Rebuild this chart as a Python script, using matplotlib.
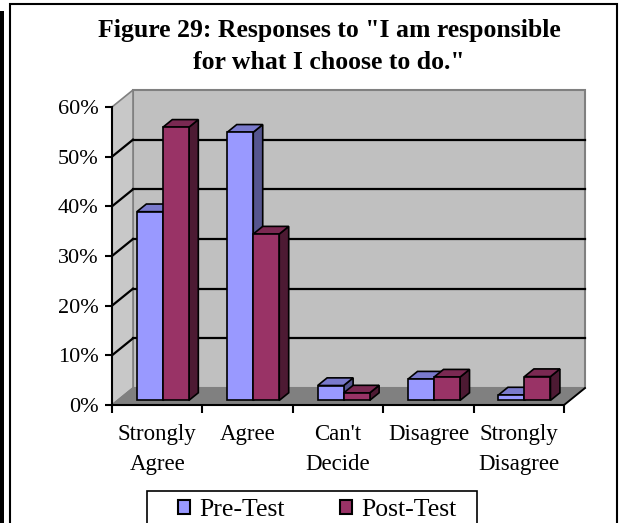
import matplotlib
matplotlib.use("Agg")
import matplotlib.pyplot as plt
from matplotlib.patches import Polygon, Rectangle, Patch
from matplotlib.lines import Line2D

# ---- data ----
categories = ["Strongly\nAgree", "Agree", "Can't\nDecide", "Disagree", "Strongly\nDisagree"]
pre_test = [38, 54, 3, 4.3, 1.1]
post_test = [55, 33.5, 1.5, 4.7, 4.8]
series_names = ["Pre-Test", "Post-Test"]
y_ticks = [0, 10, 20, 30, 40, 50, 60]
title_lines = ["Figure 29: Responses to \"I am responsible", "for what I choose to do.\""]

# ---- styling ----
W, H, DPI = 621, 523, 100
FONT = "Liberation Serif"
plt.rcParams["font.family"] = [FONT, "DejaVu Serif"]

pre_faces = ("#9999FF", "#7A7ACC", "#55558F")    # front, top, side
post_faces = ("#993366", "#7A2952", "#4D1A33")
wall_back = "#C0C0C0"
wall_left = "#C8C8C8"
floor_col = "#808080"
edge_gray = "#808080"

DEPTH_PX = (21.0, 17.0)        # depth offset of the back wall in pixels
BAR_D0, BAR_D1 = 0.27, 0.72    # depth range occupied by bars
BAR_W = 0.2875                 # width of a single bar (category units)

fig = plt.figure(figsize=(W / DPI, H / DPI), dpi=DPI)
fig.patch.set_facecolor("white")

# front plane of the plot box
ax = fig.add_axes([112 / W, 1 - 405 / H, (564 - 112) / W, (405 - 107) / H])
ax.set_xlim(0, len(categories))
ax.set_ylim(y_ticks[0], y_ticks[-1])
ax.patch.set_visible(False)

# depth offsets in data units
px_per_x = (564 - 112) / len(categories)
px_per_y = (405 - 107) / (y_ticks[-1] - y_ticks[0])
KX = DEPTH_PX[0] / px_per_x
KY = DEPTH_PX[1] / px_per_y


def P(x, y, d):
    return (x + d * KX, y + d * KY)


def poly(pts, fc, ec="black", lw=1.2, z=1):
    ax.add_patch(Polygon(pts, closed=True, facecolor=fc, edgecolor=ec,
                         linewidth=lw, zorder=z, clip_on=False, joinstyle="miter"))


def seg(p, q, color="black", lw=1.5, z=2):
    ax.add_line(Line2D([p[0], q[0]], [p[1], q[1]], color=color, lw=lw,
                       zorder=z, clip_on=False))


n = len(categories)
ymax = y_ticks[-1]

# walls and floor
poly([P(0, 0, 1), P(n, 0, 1), P(n, ymax, 1), P(0, ymax, 1)], wall_back, ec=edge_gray, lw=1.5, z=0)
poly([P(0, 0, 0), P(0, 0, 1), P(0, ymax, 1), P(0, ymax, 0)], wall_left, ec=edge_gray, lw=1.2, z=0)
poly([P(0, 0, 0), P(n, 0, 0), P(n, 0, 1), P(0, 0, 1)], floor_col, ec=edge_gray, lw=1.2, z=1)
seg(P(n, 0, 0), P(n, 0, 1), color="black", lw=1.3, z=1.5)

# gridlines on back and left walls
for v in y_ticks[1:-1]:
    seg(P(0, v, 1), P(n, v, 1), lw=1.6, z=0.5)
    seg(P(0, v, 0), P(0, v, 1), lw=1.6, z=0.5)

# 3-D columns
for i in range(n):
    for j, (vals, faces) in enumerate(((pre_test, pre_faces), (post_test, post_faces))):
        v = vals[i]
        x0 = i + (1 - 2 * BAR_W) / 2 + j * BAR_W
        x1 = x0 + BAR_W
        z = 3 + i * 2 + j
        # side face
        poly([P(x1, 0, BAR_D0), P(x1, 0, BAR_D1), P(x1, v, BAR_D1), P(x1, v, BAR_D0)], faces[2], z=z)
        # top face
        poly([P(x0, v, BAR_D0), P(x1, v, BAR_D0), P(x1, v, BAR_D1), P(x0, v, BAR_D1)], faces[1], z=z)
        # front face
        poly([P(x0, 0, BAR_D0), P(x1, 0, BAR_D0), P(x1, v, BAR_D0), P(x0, v, BAR_D0)], faces[0], z=z)

# axes: front spines
for s in ("top", "right"):
    ax.spines[s].set_visible(False)
for s in ("left", "bottom"):
    ax.spines[s].set_linewidth(1.5)
    ax.spines[s].set_zorder(20)

ax.set_yticks(y_ticks)
ax.set_yticklabels([f"{t}%" for t in y_ticks])
ax.tick_params(axis="y", direction="out", length=5, width=1.5, pad=4.5,
               labelsize=16, labelfontfamily=FONT)

ax.set_xticks(range(n + 1))
ax.set_xticklabels([])
ax.set_xticks([i + 0.5 for i in range(n)], minor=True)
ax.set_xticklabels(categories, minor=True, linespacing=1.55)
ax.tick_params(axis="x", which="major", direction="out", length=6, width=1.5)
ax.tick_params(axis="x", which="minor", length=0, pad=14, labelsize=16.5,
               labelfontfamily=FONT)

# title
fig.text(329 / W, 1 - 30 / H, title_lines[0], ha="center", va="center",
         fontsize=18.5, fontweight="bold", family=FONT)
fig.text(329 / W, 1 - 62 / H, title_lines[1], ha="center", va="center",
         fontsize=18.5, fontweight="bold", family=FONT)

# legend (entries without frame, box drawn separately)
handles = [Patch(facecolor=pre_faces[0], edgecolor="black", linewidth=1.5),
           Patch(facecolor=post_faces[0], edgecolor="black", linewidth=1.5)]
leg = fig.legend(handles, series_names, loc="center left",
                 bbox_to_anchor=(178 / W, 1 - 510 / H), ncol=2,
                 prop={"family": FONT, "size": 18.5},
                 handlelength=0.47, handleheight=0.47, handletextpad=0.35,
                 columnspacing=2.15, borderpad=0, borderaxespad=0,
                 frameon=False)
fig.patches.append(Rectangle((147 / W, -0.05), (477 - 147) / W, 1 - 491 / H + 0.05,
                             transform=fig.transFigure, facecolor="white",
                             edgecolor="black", linewidth=1.2, zorder=0))

# chart frame and left rule
fig.patches.append(Rectangle((10 / W, -0.05), (617 - 10) / W, 1 - 4 / H + 0.05,
                             transform=fig.transFigure, facecolor="none",
                             edgecolor="black", linewidth=1.5))
fig.patches.append(Rectangle((0, -0.05), 3.5 / W, 1 - 11 / H + 0.05,
                             transform=fig.transFigure, facecolor="black",
                             edgecolor="none"))

fig.savefig("out.png", dpi=DPI)
